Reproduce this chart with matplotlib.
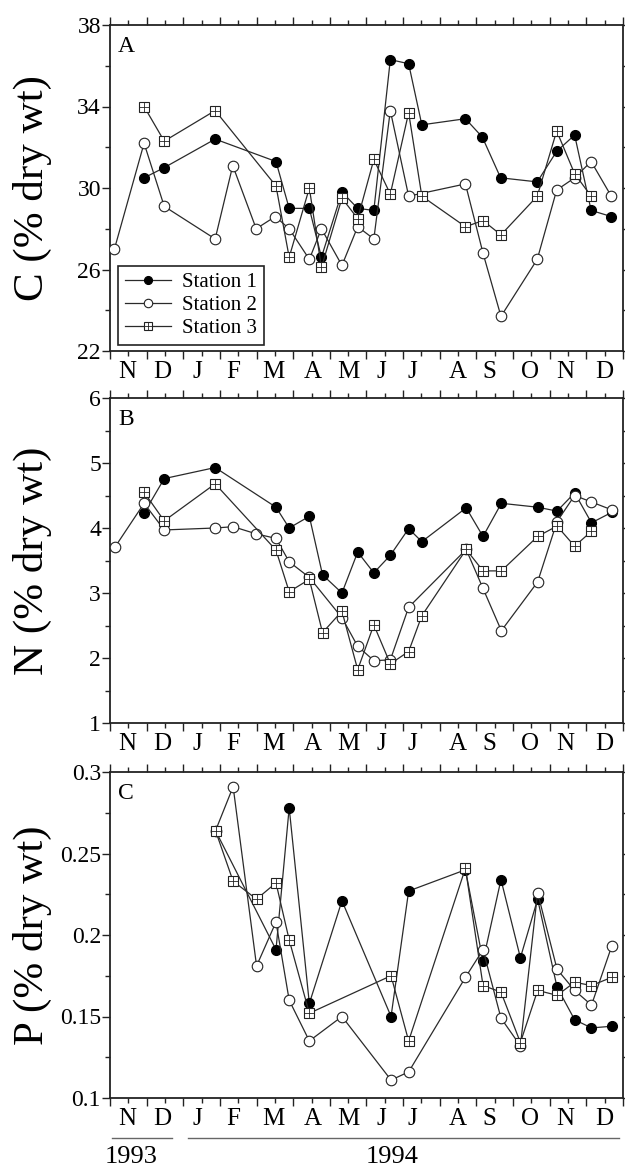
import matplotlib
matplotlib.use("Agg")
import numpy as np
import matplotlib.pyplot as plt
import matplotlib.transforms as mtransforms
from matplotlib.lines import Line2D
from matplotlib.legend_handler import HandlerTuple
from matplotlib.ticker import MultipleLocator, FixedLocator, FuncFormatter

plt.rcParams['font.family'] = ['Liberation Serif', 'DejaVu Serif']

# ---- axis labels ----
month_labels = ["N", "D", "J", "F", "M", "A", "M", "J", "J", "A", "S", "O", "N", "D"]
month_label_pos = [0.46, 1.42, 2.38, 3.36, 4.45, 5.52, 6.5, 7.4, 8.25, 9.48, 10.36, 11.45, 12.41, 13.5]
year_labels = ["1993", "1994"]
station_names = ["Station 1", "Station 2", "Station 3"]

# time axis: months after 1 Nov 1993
# ---- Panel A: C (% dry wt) ----
a_s1_t = [0.93, 1.48, 2.87, 4.53, 4.89, 5.44, 5.77, 6.33, 6.76, 7.2, 7.65, 8.15, 8.51, 9.7, 10.16, 10.66, 11.66, 12.19, 12.68, 13.13, 13.68]
a_s1_v = [30.5, 31.0, 32.4, 31.3, 29.0, 29.0, 26.6, 29.8, 29.0, 28.9, 36.3, 36.1, 33.1, 33.4, 32.5, 30.5, 30.3, 31.8, 32.6, 28.9, 28.6]
a_s2_t = [0.12, 0.93, 1.48, 2.87, 3.35, 3.99, 4.51, 4.89, 5.44, 5.77, 6.33, 6.76, 7.2, 7.65, 8.15, 9.7, 10.18, 10.67, 11.66, 12.19, 12.68, 13.13, 13.68]
a_s2_v = [27.0, 32.2, 29.1, 27.5, 31.1, 28.0, 28.6, 28.0, 26.5, 28.0, 26.2, 28.1, 27.5, 33.8, 29.6, 30.2, 26.8, 23.7, 26.5, 29.9, 30.5, 31.3, 29.6]
a_s3_t = [0.93, 1.48, 2.87, 4.53, 4.89, 5.44, 5.77, 6.33, 6.76, 7.2, 7.65, 8.15, 8.51, 9.7, 10.18, 10.67, 11.66, 12.19, 12.68, 13.13]
a_s3_v = [34.0, 32.3, 33.8, 30.1, 26.6, 30.0, 26.1, 29.5, 28.5, 31.4, 29.7, 33.7, 29.6, 28.1, 28.4, 27.7, 29.6, 32.8, 30.7, 29.6]

# ---- Panel B: N (% dry wt) ----
b_s1_t = [0.93, 1.48, 2.87, 4.53, 4.89, 5.44, 5.8, 6.33, 6.76, 7.2, 7.65, 8.15, 8.51, 9.72, 10.18, 10.68, 11.67, 12.2, 12.68, 13.14, 13.69]
b_s1_v = [4.23, 4.76, 4.93, 4.32, 4.0, 4.18, 3.28, 3.0, 3.63, 3.31, 3.58, 3.99, 3.79, 4.31, 3.87, 4.38, 4.32, 4.26, 4.54, 4.08, 4.24]
b_s2_t = [0.14, 0.93, 1.48, 2.87, 3.36, 3.99, 4.53, 4.89, 5.44, 6.33, 6.76, 7.2, 7.65, 8.15, 9.72, 10.18, 10.68, 11.67, 12.2, 12.68, 13.14, 13.69]
b_s2_v = [3.71, 4.38, 3.97, 4.0, 4.02, 3.91, 3.84, 3.48, 3.24, 2.62, 2.18, 1.96, 1.97, 2.78, 3.67, 3.07, 2.42, 3.17, 4.1, 4.5, 4.4, 4.28]
b_s3_t = [0.93, 1.48, 2.87, 4.53, 4.89, 5.44, 5.8, 6.33, 6.76, 7.2, 7.65, 8.15, 8.51, 9.72, 10.18, 10.68, 11.67, 12.2, 12.68, 13.14]
b_s3_v = [4.55, 4.11, 4.68, 3.66, 3.02, 3.21, 2.39, 2.72, 1.82, 2.51, 1.91, 2.1, 2.65, 3.67, 3.34, 3.34, 3.87, 4.03, 3.72, 3.95]

# ---- Panel C: P (% dry wt) ----
c_s1_t = [2.88, 4.53, 4.89, 5.44, 6.33, 7.67, 8.15, 9.7, 10.18, 10.67, 11.2, 11.67, 12.2, 12.68, 13.14, 13.69]
c_s1_v = [0.264, 0.191, 0.278, 0.158, 0.221, 0.150, 0.227, 0.240, 0.184, 0.234, 0.186, 0.222, 0.168, 0.148, 0.143, 0.144]
c_s2_t = [2.88, 3.36, 4.0, 4.53, 4.89, 5.44, 6.33, 7.67, 8.15, 9.7, 10.18, 10.67, 11.2, 11.67, 12.2, 12.68, 13.14, 13.69]
c_s2_v = [0.264, 0.291, 0.181, 0.208, 0.160, 0.135, 0.150, 0.111, 0.116, 0.174, 0.191, 0.149, 0.132, 0.226, 0.179, 0.166, 0.157, 0.193]
c_s3_t = [2.88, 3.36, 4.0, 4.53, 4.89, 5.44, 7.67, 8.15, 9.7, 10.18, 10.67, 11.2, 11.67, 12.2, 12.68, 13.14, 13.69]
c_s3_v = [0.264, 0.233, 0.222, 0.232, 0.197, 0.152, 0.175, 0.135, 0.241, 0.169, 0.165, 0.134, 0.166, 0.163, 0.171, 0.169, 0.174]

LINE_C = '#2a2a2a'

def style_kw(i):
    if i == 0:
        return dict(marker='o', ms=7.2, mfc='black', mec='black', mew=0.8)
    if i == 1:
        return dict(marker='o', ms=7.6, mfc='white', mec='#222222', mew=0.8)
    return dict(marker='s', ms=6.8, mfc='white', mec='#222222', mew=0.8)

def draw_station(ax, i, t, v):
    ax.plot(t, v, '-', color=LINE_C, lw=0.9, zorder=3 + i, **style_kw(i))
    if i == 2:
        ax.plot(t, v, ls='none', marker='+', ms=6.8, mec='#222222', mew=0.6, zorder=3 + i)

fig = plt.figure(figsize=(6.25, 11.72), dpi=100)
W, H = 625.0, 1172.0
left_px, right_px = 110, 623
panels_px = [(25, 351), (398, 723), (772, 1098)]

panel_defs = [
    dict(ylabel="C (% dry wt)", ylim=(22, 38), step=4, letter="A",
         data=[(a_s1_t, a_s1_v), (a_s2_t, a_s2_v), (a_s3_t, a_s3_v)]),
    dict(ylabel="N (% dry wt)", ylim=(1, 6), step=1, letter="B",
         data=[(b_s1_t, b_s1_v), (b_s2_t, b_s2_v), (b_s3_t, b_s3_v)]),
    dict(ylabel="P (% dry wt)", ylim=(0.1, 0.3), step=0.05, letter="C",
         data=[(c_s1_t, c_s1_v), (c_s2_t, c_s2_v), (c_s3_t, c_s3_v)]),
]

axes = []
for (top, bot), pd in zip(panels_px, panel_defs):
    ax = fig.add_axes([left_px / W, 1 - bot / H, (right_px - left_px) / W, (bot - top) / H])
    axes.append(ax)
    for i, (t, v) in enumerate(pd['data']):
        draw_station(ax, i, t, v)
    lo, hi = pd['ylim']
    st = pd['step']
    ax.set_xlim(0, 14)
    ax.set_ylim(lo, hi)
    ax.xaxis.set_major_locator(MultipleLocator(1))
    ax.xaxis.set_minor_locator(MultipleLocator(0.5))
    nmaj = int(round((hi - lo) / st))
    ax.yaxis.set_major_locator(FixedLocator([lo + k * st for k in range(nmaj + 1)]))
    ax.yaxis.set_minor_locator(FixedLocator([lo + (k + 0.5) * st for k in range(nmaj)]))
    ax.yaxis.set_major_formatter(FuncFormatter(lambda v, p: f"{round(v, 4):g}"))
    ax.set_xticklabels([])
    ax.tick_params(which='both', direction='out', top=True, right=True, width=1.0, color='#222222')
    ax.tick_params(which='major', length=5.5, labelsize=17, pad=1)
    ax.tick_params(which='minor', length=3.5)
    for s in ax.spines.values():
        s.set_linewidth(1.3)
        s.set_color('#222222')
    ax.set_ylabel(pd['ylabel'], fontsize=31)
    ax.yaxis.set_label_coords(-0.113, 0.5)
    ax.text(0.016, 0.965, pd['letter'], transform=ax.transAxes, fontsize=17, ha='left', va='top')
    trans = mtransforms.blended_transform_factory(ax.transData, ax.transAxes)
    for lab, pos in zip(month_labels, month_label_pos):
        ax.text(pos, -0.064, lab, transform=trans, fontsize=18, ha='center', va='center')

# legend in panel A
h1 = Line2D([], [], color=LINE_C, lw=0.9, **style_kw(0))
h2 = Line2D([], [], color=LINE_C, lw=0.9, **style_kw(1))
h3a = Line2D([], [], color=LINE_C, lw=0.9, **style_kw(2))
h3b = Line2D([], [], ls='none', marker='+', ms=6.8, mec='#222222', mew=0.6)
leg = axes[0].legend([h1, h2, (h3a, h3b)], station_names,
                     handler_map={tuple: HandlerTuple(ndivide=1, pad=0)},
                     loc='lower left', bbox_to_anchor=(0.0156, 0.018), borderaxespad=0,
                     fontsize=15, handlelength=2.2, handletextpad=0.5, labelspacing=0.15,
                     borderpad=0.35, fancybox=False, framealpha=1, edgecolor='#222222',
                     markerscale=0.8, numpoints=1)
leg.get_frame().set_linewidth(1.2)

# year annotations under panel C
axc = axes[2]
transc = mtransforms.blended_transform_factory(axc.transData, axc.transAxes)
axc.add_line(Line2D([0.05, 1.7], [-0.123, -0.123], transform=transc, color='#666666', lw=1.0, clip_on=False))
axc.add_line(Line2D([2.13, 13.88], [-0.123, -0.123], transform=transc, color='#666666', lw=1.0, clip_on=False))
axc.text(0.57, -0.181, year_labels[0], transform=transc, fontsize=19, ha='center', va='center')
axc.text(7.7, -0.181, year_labels[1], transform=transc, fontsize=19, ha='center', va='center')

fig.savefig("out.png", dpi=100)
